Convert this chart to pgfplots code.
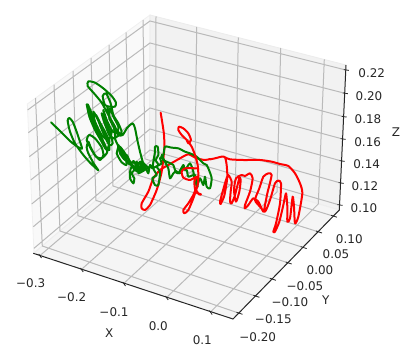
\documentclass[border=0pt]{standalone}
\usepackage{pgfplots}
\usepackage{fontspec}
\setmainfont{DejaVu Sans}
\pgfplotsset{compat=1.18}
\definecolor{gridc}{HTML}{BABABA}
\definecolor{txt}{HTML}{262626}
\definecolor{mgreen}{HTML}{008000}
\begin{document}
\begin{tikzpicture}[font=\fontsize{12}{14}\selectfont]
\path[use as bounding box] (0,0) rectangle (419bp,362bp);
\begin{axis}[at={(0,0)},anchor=south west,width=419bp,height=362bp,scale only axis,
  xmin=0,xmax=419,ymin=0,ymax=362,y dir=reverse,hide axis,clip=false,
  unbounded coords=jump,
  curve/.style={line width=2bp,smooth,tension=0.4,line join=round,line cap=round},
  ]
% panes
\addplot[fill={rgb,255:red,249;green,249;blue,249},draw={rgb,255:red,240;green,240;blue,240},line width=0.8bp] coordinates {(34,253)(27.3,104)(150,15)(149.5,155)} --cycle;
\addplot[fill={rgb,255:red,242;green,242;blue,242},draw={rgb,255:red,236;green,236;blue,236},line width=0.8bp] coordinates {(149.5,155)(150,15)(346,65)(339.3,210)} --cycle;
\addplot[fill={rgb,255:red,245;green,245;blue,245},draw={rgb,255:red,238;green,238;blue,238},line width=0.8bp] coordinates {(34,253)(149.5,155)(339.3,210)(233,319)} --cycle;
% grid
\addplot[gridc,line width=1bp] coordinates {
(40,255.5)(155.7,156.8)(156,16.5)(nan,nan)
(81.7,269.2)(195,168.2)(196.7,27)(nan,nan)
(124,283.2)(235.5,179.9)(238.3,37.5)(nan,nan)
(166.7,297.3)(277,191.9)(280.7,48)(nan,nan)
(210.7,311.8)(318.3,203.9)(324.3,59.4)(nan,nan)
(238.5,313)(42.3,246)(35.5,98)(nan,nan)
(255.4,296)(60,231)(54,84.6)(nan,nan)
(271.9,279)(78,215.7)(73,71)(nan,nan)
(287.7,262.7)(96,200.4)(91,58)(nan,nan)
(302.7,247.3)(113,186)(109,44.8)(nan,nan)
(318,231.7)(129,172.4)(126,32.4)(nan,nan)
(333,216)(145,158.9)(143,20)(nan,nan)
(34,248.3)(150,150)(339.5,205)(nan,nan)
(33.3,226.7)(150,129)(340.6,183)(nan,nan)
(31.7,204)(150,108)(341.6,161)(nan,nan)
(30.7,180)(150,87)(342.6,139)(nan,nan)
(29.3,156.7)(150,65)(343.7,116.7)(nan,nan)
(28.3,132.7)(150,43)(344.8,93.3)(nan,nan)
(27.6,110)(150,21)(345.8,70)
};
% axis lines and ticks
\addplot[black!85,line width=1bp] coordinates {(33.3,253.3)(233,319)(339.3,210)(346,65)};
\addplot[black!85,line width=0.8bp] coordinates {
(38.7,254)(41.5,258)(nan,nan)(80.4,268)(83.2,272)(nan,nan)(122.7,282)(125.5,286)(nan,nan)(165.4,296)(168.2,300)(nan,nan)(209.4,310.6)(212.2,314.6)(nan,nan)
(331,215.3)(337,217.2)(nan,nan)(316,231)(322,233)(nan,nan)(300.7,246.6)(306.7,248.6)(nan,nan)(285.7,262)(291.7,264)(nan,nan)(269.9,278.3)(275.9,280.3)(nan,nan)(253.4,295.3)(259.4,297.3)(nan,nan)(236.5,312.3)(242.5,314.3)(nan,nan)
(337.5,204.6)(342.5,205.4)(nan,nan)(338.6,182.6)(343.6,183.4)(nan,nan)(339.6,160.6)(344.6,161.4)(nan,nan)(340.6,138.6)(345.6,139.4)(nan,nan)(341.7,116.3)(346.7,117.1)(nan,nan)(342.8,92.9)(347.8,93.7)(nan,nan)(343.8,69.6)(348.8,70.4)
};
% red, first strand, left part
\addplot[red,curve] table[row sep=\\,x expr=125+\thisrowno{0}/3,y expr=135+\thisrowno{1}/3] {
107 -67\\113 -30\\117 0\\118 40\\110 110\\95 165\\75 210\\60 225\\50 220\\50 205\\70 170\\85 130\\105 105\\130 90\\165 70\\190 58\\215 70\\240 75\\255 72\\\\
};
% red, first strand, right part
\addplot[red,curve] table[row sep=\\,x expr=210+\thisrowno{0}/3,y expr=150+\thisrowno{1}/3] {
0 28\\15 25\\35 20\\45 22\\50 45\\52 80\\48 110\\42 140\\32 162\\30 155\\38 125\\48 90\\55 75\\65 95\\62 125\\60 155\\65 160\\75 135\\88 85\\92 90\\88 125\\78 155\\72 120\\78 85\\95 75\\105 78\\120 70\\128 85\\120 125\\105 165\\105 175\\115 165\\130 145\\145 155\\160 185\\165 165\\172 130\\185 75\\175 70\\160 80\\148 115\\135 150\\150 170\\165 185\\180 150\\195 100\\205 92\\213 100\\210 160\\198 220\\190 245\\195 245\\208 215\\220 165\\228 130\\232 170\\232 215\\240 205\\248 140\\252 170\\255 220\\265 200\\277 130\\270 100\\255 70\\235 48\\210 42\\185 35\\150 30\\100 30\\60 28\\45 22\\\\
};
% green, left cluster
\addplot[mgreen,curve] table[row sep=\\,x expr=20+\thisrowno{0}/3,y expr=60+\thisrowno{1}/3] {
93 187\\120 213\\150 243\\172 260\\186 266\\180 245\\168 210\\158 185\\148 174\\143 182\\150 215\\165 250\\190 285\\212 310\\235 331\\222 312\\205 280\\200 262\\205 245\\212 262\\225 285\\240 300\\250 285\\245 262\\225 235\\208 225\\200 240\\212 265\\228 290\\245 295\\262 275\\248 240\\230 200\\215 160\\203 133\\207 155\\220 190\\238 230\\255 262\\268 270\\265 245\\250 210\\236 180\\228 165\\240 195\\252 225\\268 255\\278 250\\270 215\\255 180\\245 160\\252 185\\268 225\\285 235\\282 205\\270 175\\262 140\\268 170\\285 205\\300 222\\305 215\\295 190\\280 165\\272 130\\258 100\\248 108\\255 135\\270 140\\285 140\\288 128\\275 108\\250 85\\225 68\\205 64\\203 78\\222 100\\245 128\\265 165\\285 200\\295 225\\308 225\\322 203\\338 190\\345 205\\352 240\\360 275\\368 305\\373 322\\360 322\\345 320\\325 310\\305 275\\295 255\\300 280\\315 300\\320 285\\330 305\\345 325\\350 305\\358 325\\370 312\\372 330\\\\
};
% green, extra strands of the left cluster
\addplot[mgreen,curve] table[row sep=\\,x expr=70+\thisrowno{0}/3,y expr=75+\thisrowno{1}/3] {
50 88\\58 125\\75 165\\95 200\\110 225\\118 200\\105 170\\85 135\\70 110\\75 140\\95 180\\115 195\\125 170\\110 135\\100 105\\105 130\\125 165\\140 175\\145 155\\130 125\\120 100\\118 130\\135 160\\150 178\\135 190\\145 215\\140 235\\155 262\\170 270\\165 245\\150 215\\165 235\\185 268\\205 285\\225 270\\210 260\\195 285\\235 280\\215 265\\205 295\\240 275\\\\
};
% green, right part
\addplot[mgreen,curve] table[row sep=\\,x expr=125+\thisrowno{0}/3,y expr=135+\thisrowno{1}/3] {
57 105\\40 95\\25 82\\15 85\\5 75\\15 88\\25 78\\35 90\\30 100\\45 85\\55 100\\40 110\\30 105\\20 95\\15 110\\15 130\\25 145\\28 130\\20 115\\35 100\\50 105\\60 95\\65 105\\70 115\\75 90\\82 100\\85 80\\90 50\\90 35\\98 35\\100 60\\92 75\\100 90\\85 100\\95 120\\82 130\\90 150\\100 150\\105 110\\95 95\\110 85\\105 70\\115 60\\120 35\\140 38\\160 40\\180 50\\195 55\\215 65\\235 85\\245 90\\252 105\\260 130\\255 160\\245 155\\240 125\\235 150\\225 130\\215 155\\210 120\\190 125\\185 105\\170 100\\165 115\\150 105\\145 90\\125 80\\115 75\\110 60\\122 85\\130 100\\135 130\\145 115\\150 110\\160 115\\175 90\\180 105\\195 85\\205 110\\210 140\\218 155\\212 130\\\\
};
% red, second strand
\addplot[red,curve] table[row sep=\\,x expr=125+\thisrowno{0}/3,y expr=135+\thisrowno{1}/3] {
185 15\\190 25\\198 15\\190 -5\\175 -20\\162 -25\\160 -15\\170 0\\188 18\\200 35\\210 60\\218 90\\220 120\\218 150\\205 190\\190 225\\178 235\\175 225\\190 205\\205 180\\212 165\\222 178\\228 178\\212 170\\208 140\\215 125\\195 135\\175 128\\170 110\\180 100\\215 100\\\\
};
% labels
\tikzset{lab/.style={text=txt,inner sep=0pt}}
\node[lab] at (axis cs:30.7,283.3) {−0.3};
\node[lab] at (axis cs:71.7,297.3) {−0.2};
\node[lab] at (axis cs:114,311.7) {−0.1};
\node[lab] at (axis cs:158.3,325.7) {0.0};
\node[lab] at (axis cs:202.3,340) {0.1};
\node[lab] at (axis cs:109.3,332.7) {X};
\node[lab] at (axis cs:349.3,239.3) {0.10};
\node[lab] at (axis cs:336,254.3) {0.05};
\node[lab] at (axis cs:320,270) {0.00};
\node[lab] at (axis cs:305,285.7) {−0.05};
\node[lab] at (axis cs:290,302.3) {−0.10};
\node[lab] at (axis cs:273.3,319.3) {−0.15};
\node[lab] at (axis cs:257.7,336.7) {−0.20};
\node[lab] at (axis cs:325.7,300) {Y};
\node[lab] at (axis cs:371.7,72.7) {0.22};
\node[lab] at (axis cs:369,96) {0.20};
\node[lab] at (axis cs:368,119) {0.18};
\node[lab] at (axis cs:367.7,141.7) {0.16};
\node[lab] at (axis cs:366.7,164) {0.14};
\node[lab] at (axis cs:365,186) {0.12};
\node[lab] at (axis cs:364,208) {0.10};
\node[lab] at (axis cs:396,131.7) {Z};
\end{axis}
\end{tikzpicture}
\end{document}
